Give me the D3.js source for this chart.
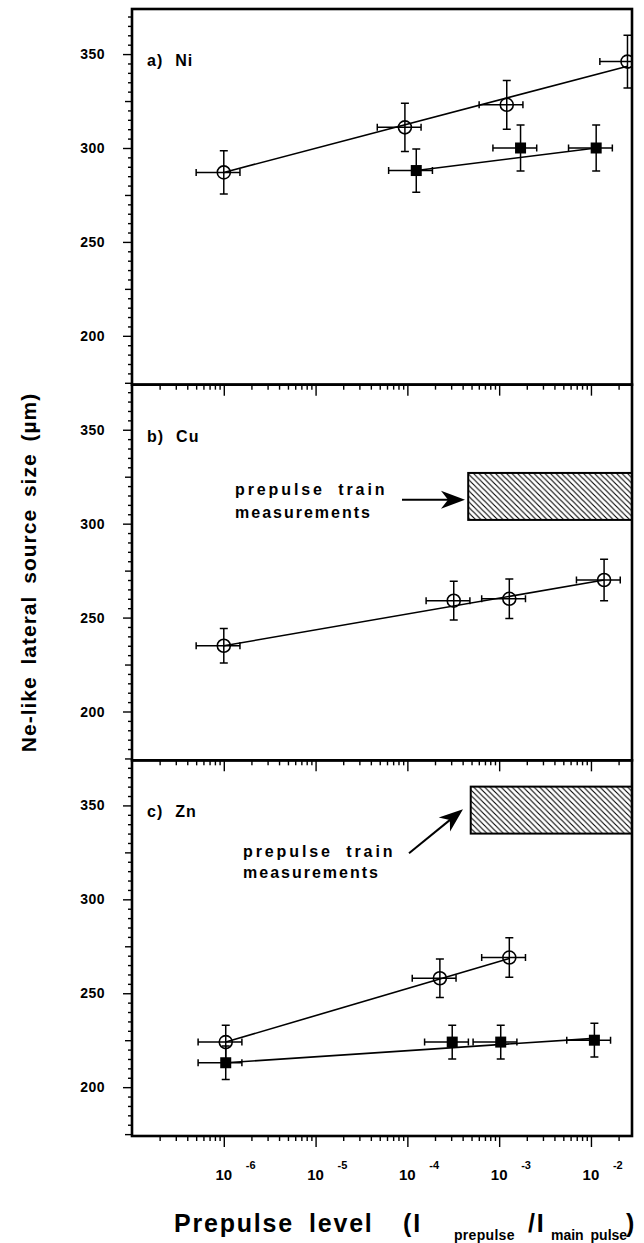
<!DOCTYPE html>
<html>
<head>
<meta charset="utf-8">
<script src="https://cdn.jsdelivr.net/npm/d3@7"></script>
<style>
body { margin: 0; background: #fff; }
svg text { font-family: "Liberation Sans", Arial, Helvetica, sans-serif; font-weight: bold; fill: #000; }
</style>
</head>
<body>
<div id="svg-container"></div>
<script>
var width = 644, height = 1243;
var margin = { top: 9, left: 132, right: 632, bottom: 1136 };
var panelH = (margin.bottom - margin.top) / 3;

// axis ticks and labels
var decadeTicks = [1e-6, 1e-5, 1e-4, 1e-3, 1e-2];
var decadeExp = ["-6", "-5", "-4", "-3", "-2"];
var yLabelTicks = [200, 250, 300, 350];
var panelNames = ["a)", "b)", "c)"];
var elements = ["Ni", "Cu", "Zn"];
var xErrFrac = 0.5;   // horizontal bars are +/- 50 %

// a) Ni
var niOpenX = [1.0e-6, 9.4e-5, 1.21e-3, 2.5e-2];
var niOpenY = [287, 311, 323, 346];
var niOpenErr = [11.5, 12.8, 13, 14];
var niOpenFit = [[1.0e-6, 287], [2.5e-2, 343.5]];
var niFilledX = [1.25e-4, 1.71e-3, 1.14e-2];
var niFilledY = [288, 300, 300];
var niFilledErr = [11.5, 12.3, 12.3];
var niFilledFit = [[1.25e-4, 288], [1.14e-2, 300]];

// b) Cu
var cuOpenX = [1.0e-6, 3.2e-4, 1.29e-3, 1.39e-2];
var cuOpenY = [235, 259, 260, 270];
var cuOpenErr = [9.2, 10.3, 10.5, 11];
var cuOpenFit = [[1.0e-6, 235], [1.39e-2, 270]];
var cuTrain = [4.6e-4, 302, 327];   // x start, y low, y high

// c) Zn
var znOpenX = [1.05e-6, 2.26e-4, 1.29e-3];
var znOpenY = [224, 258, 269];
var znOpenErr = [9, 10.2, 10.5];
var znOpenFit = [[1.05e-6, 224], [1.29e-3, 268.5]];
var znFilledX = [1.05e-6, 3.08e-4, 1.04e-3, 1.09e-2];
var znFilledY = [213, 224, 224, 225];
var znFilledErr = [8.9, 9, 9, 9];
var znFilledFit = [[1.05e-6, 213], [1.09e-2, 226]];
var znTrain = [4.9e-4, 335, 360];

function series(xs, ys, es, fit, sym) {
  return { pts: xs.map(function(d, i) { return { x: d, y: ys[i], e: es[i] }; }), fit: fit, sym: sym };
}

var panels = [
  { series: [series(niOpenX, niOpenY, niOpenErr, niOpenFit, "circle"),
             series(niFilledX, niFilledY, niFilledErr, niFilledFit, "square")], train: null },
  { series: [series(cuOpenX, cuOpenY, cuOpenErr, cuOpenFit, "circle")], train: cuTrain,
    note: { tx: 235, ty: [110, 133.5], arrow: [402, 115, 465, 115] } },
  { series: [series(znOpenX, znOpenY, znOpenErr, znOpenFit, "circle"),
             series(znFilledX, znFilledY, znFilledErr, znFilledFit, "square")], train: znTrain,
    note: { tx: 243, ty: [97, 118], arrow: [409, 93, 463, 49] } }
];

var svg = d3.select("#svg-container")
            .append("svg")
            .attr("width", width)
            .attr("height", height);

var defs = svg.append("defs");
defs.append("pattern")
    .attr("id", "hatch")
    .attr("patternUnits", "userSpaceOnUse")
    .attr("width", 5.5).attr("height", 5.5)
  .append("path")
    .attr("d", "M0,0L5.5,5.5M-1,4.5L1,6.5M4.5,-1L6.5,1")
    .attr("stroke", "#000")
    .attr("stroke-width", 1.1);

var x = d3.scaleLog()
          .domain([1e-7, 2.8e-2])
          .range([margin.left, margin.right]);

var minorTicks = x.ticks().filter(function(d) {
  return decadeTicks.indexOf(d) < 0 && d > 1e-7;
});

function arrowHead(x1, y1, x2, y2) {
  var a = Math.atan2(y2 - y1, x2 - x1), L = 24, W = 9, N = 17;
  function pt(l, w) {
    return [x2 - l * Math.cos(a) - w * Math.sin(a), y2 - l * Math.sin(a) + w * Math.cos(a)];
  }
  return "M" + [x2, y2] + "L" + pt(L, W) + "L" + pt(N, 0) + "L" + pt(L, -W) + "Z";
}

panels.forEach(function(p, i) {
  var y0 = margin.top + i * panelH, y1 = y0 + panelH;
  var y = d3.scaleLinear().domain([174, 374]).range([y1, y0]);
  var g = svg.append("g");

  defs.append("clipPath").attr("id", "clip" + i)
    .append("rect").attr("x", margin.left).attr("y", y0)
    .attr("width", margin.right - margin.left).attr("height", panelH);

  var plot = g.append("g").attr("clip-path", "url(#clip" + i + ")");

  if (p.train) {
    plot.append("rect")
      .attr("x", x(p.train[0]))
      .attr("y", y(p.train[2]))
      .attr("width", margin.right - x(p.train[0]) + 2)
      .attr("height", y(p.train[1]) - y(p.train[2]))
      .attr("fill", "url(#hatch)")
      .attr("stroke", "#000")
      .attr("stroke-width", 2);
  }

  var fitLine = d3.line()
                  .x(function(d) { return x(d[0]); })
                  .y(function(d) { return y(d[1]); });

  p.series.forEach(function(s) {
    plot.append("path")
      .datum(s.fit)
      .attr("fill", "none")
      .attr("stroke", "#000")
      .attr("stroke-width", 1.6)
      .attr("d", fitLine);

    var bars = plot.append("g")
      .attr("stroke", "#000")
      .attr("stroke-width", 1.5)
      .attr("fill", "none");

    s.pts.forEach(function(d) {
      var cx = x(d.x), cy = y(d.y);
      var xl = x(d.x * (1 - xErrFrac)), xr = x(d.x * (1 + xErrFrac));
      var yt = y(d.y + d.e), yb = y(d.y - d.e);
      bars.append("path")
        .attr("d", "M" + cx + "," + yt + "V" + yb +
                   "M" + (cx - 4) + "," + yt + "H" + (cx + 4) +
                   "M" + (cx - 4) + "," + yb + "H" + (cx + 4) +
                   "M" + xl + "," + cy + "H" + xr +
                   "M" + xl + "," + (cy - 3.5) + "V" + (cy + 3.5) +
                   "M" + xr + "," + (cy - 3.5) + "V" + (cy + 3.5));
    });

    if (s.sym == "circle") {
      plot.selectAll(null)
        .data(s.pts).enter()
        .append("circle")
        .attr("cx", function(d) { return x(d.x); })
        .attr("cy", function(d) { return y(d.y); })
        .attr("r", 6.5)
        .attr("fill", "none")
        .attr("stroke", "#000")
        .attr("stroke-width", 1.6);
    } else {
      plot.selectAll(null)
        .data(s.pts).enter()
        .append("rect")
        .attr("x", function(d) { return x(d.x) - 5.5; })
        .attr("y", function(d) { return y(d.y) - 5.5; })
        .attr("width", 11).attr("height", 11)
        .attr("fill", "#000");
    }
  });

  // annotation for the prepulse train box
  if (p.note) {
    var n = p.note;
    g.append("text").attr("x", n.tx).attr("y", y0 + n.ty[0])
      .attr("font-size", 16).attr("letter-spacing", 2.9).attr("word-spacing", 6)
      .text("prepulse train");
    g.append("text").attr("x", n.tx).attr("y", y0 + n.ty[1])
      .attr("font-size", 16).attr("letter-spacing", 2)
      .text("measurements");
    var a = n.arrow;
    var len = Math.hypot(a[2] - a[0], a[3] - a[1]);
    g.append("line")
      .attr("x1", a[0]).attr("y1", y0 + a[1])
      .attr("x2", a[2] - 10 * (a[2] - a[0]) / len)
      .attr("y2", y0 + a[3] - 10 * (a[3] - a[1]) / len)
      .attr("stroke", "#000").attr("stroke-width", 2);
    g.append("path")
      .attr("d", arrowHead(a[0], y0 + a[1], a[2], y0 + a[3]))
      .attr("fill", "#000");
  }

  // panel label
  g.append("text")
    .attr("x", 147).attr("y", y0 + 57)
    .attr("font-size", 16)
    .attr("letter-spacing", 1)
    .text(panelNames[i])
    .append("tspan").attr("dx", 12).text(elements[i]);

  // left axis
  var yAxis = g.append("g")
    .attr("transform", "translate(" + margin.left + ",0)")
    .call(d3.axisLeft(y).tickValues(d3.range(175, 375, 5)).tickSize(4).tickFormat(""));
  yAxis.select(".domain").remove();
  yAxis.selectAll(".tick line")
    .attr("stroke-width", 1.4)
    .attr("x2", function(d) { return d % 50 == 0 ? -9 : (d % 25 == 0 ? -7 : -4); });

  g.selectAll(null)
    .data(yLabelTicks).enter()
    .append("text")
    .attr("x", 105)
    .attr("y", function(d) { return y(d); })
    .attr("dy", "0.36em")
    .attr("text-anchor", "end")
    .attr("font-size", 14)
    .attr("letter-spacing", 0.5)
    .text(function(d) { return d; });

  // bottom ticks pointing down
  var minorAxis = g.append("g")
    .attr("transform", "translate(0," + y1 + ")")
    .call(d3.axisBottom(x).tickValues(minorTicks).tickSize(5).tickFormat(""));
  var majorAxis = g.append("g")
    .attr("transform", "translate(0," + y1 + ")")
    .call(d3.axisBottom(x).tickValues(decadeTicks).tickSize(11).tickFormat(""));
  minorAxis.select(".domain").remove();
  majorAxis.select(".domain").remove();
  g.selectAll(".tick line").attr("stroke-width", 1.4);

  // frame
  g.append("rect")
    .attr("x", margin.left).attr("y", y0)
    .attr("width", margin.right - margin.left).attr("height", panelH)
    .attr("fill", "none")
    .attr("stroke", "#000")
    .attr("stroke-width", 2.6);
});

// decade labels
var xl = svg.append("g");
decadeTicks.forEach(function(d, i) {
  xl.append("text")
    .attr("x", x(d)).attr("y", 1180)
    .attr("text-anchor", "middle")
    .attr("font-size", 15)
    .text("10");
  xl.append("text")
    .attr("x", x(d) + 22).attr("y", 1169)
    .attr("font-size", 11)
    .text(decadeExp[i]);
});

// axis titles
var xt = svg.append("text")
  .attr("y", 1232)
  .attr("font-size", 25)
  .attr("letter-spacing", 1.8);
xt.append("tspan").attr("x", 174).text("Prepulse");
xt.append("tspan").attr("x", 309).text("level");
xt.append("tspan").attr("x", 403).text("(I");
xt.append("tspan").attr("x", 454).attr("dy", 8).attr("font-size", 14).attr("letter-spacing", 0.3).text("prepulse");
xt.append("tspan").attr("x", 528).attr("dy", -8).text("/I");
xt.append("tspan").attr("x", 551).attr("dy", 8).attr("font-size", 14).attr("letter-spacing", 0).attr("word-spacing", 3).text("main pulse");
xt.append("tspan").attr("x", 626).attr("dy", -8).attr("letter-spacing", 0).text(")");

svg.append("text")
  .attr("transform", "translate(36," + ((margin.top + margin.bottom) / 2) + ") rotate(-90)")
  .attr("text-anchor", "middle")
  .attr("font-size", 21)
  .attr("letter-spacing", 1)
  .attr("word-spacing", 5)
  .text("Ne-like lateral source size (\u00b5m)");
</script>
</body>
</html>
